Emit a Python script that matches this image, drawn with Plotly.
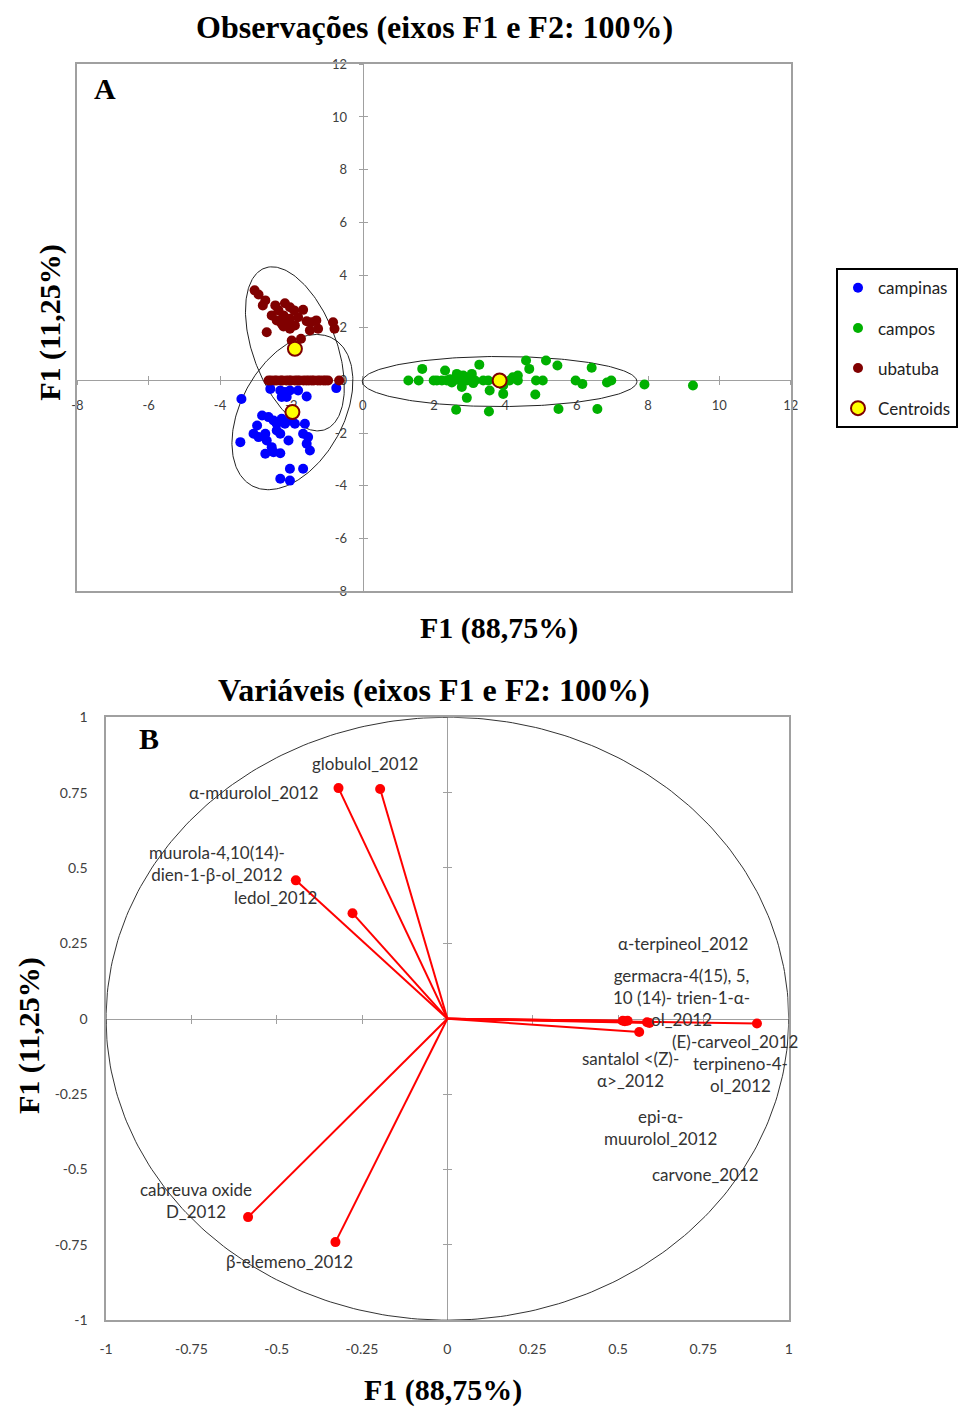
import numpy as np
import plotly.graph_objects as go

# ---------------- Painel A: observações ----------------
campinas_x = [-3.40, -2.59, -2.31, -2.18, -2.04, -1.81, -1.57, -0.74, -2.27, -2.13,
              -2.82, -2.64, -2.50, -2.41, -2.27, -2.18, -2.04, -1.90, -1.62, -2.96,
              -3.06, -2.92, -2.73, -2.41, -2.31, -2.08, -1.67, -1.53, -2.69, -2.55,
              -3.43, -2.73, -2.50, -2.31, -1.57, -1.48, -2.04, -1.67, -2.31, -2.04]
campinas_y = [-0.70, -0.32, -0.38, -0.44, -0.38, -0.38, -0.61, -0.29, -0.63, -0.63,
              -1.33, -1.39, -1.52, -1.64, -1.45, -1.64, -1.52, -1.64, -1.64, -1.71,
              -2.02, -2.15, -2.02, -1.90, -2.02, -2.28, -2.02, -2.15, -2.28, -2.53,
              -2.34, -2.78, -2.72, -2.76, -2.40, -2.66, -3.35, -3.35, -3.73, -3.80]

campos_x = [1.28, 1.57, 1.67, 1.99, 2.08, 2.22, 2.31, 2.36, 2.45, 2.50, 2.55, 2.64,
            2.68, 2.73, 2.82, 2.78, 2.92, 3.00, 3.06, 3.10, 3.15, 3.27, 3.38, 3.52,
            3.56, 2.92, 2.62, 3.54, 3.94, 3.94, 3.75, 4.12, 4.21, 4.35, 4.35, 4.58,
            4.67, 4.86, 5.05, 4.84, 5.14, 5.46, 5.49, 5.97, 6.16, 6.42, 6.58, 6.85,
            6.97, 7.90, 9.26]
campos_y = [0.00, 0.00, 0.44, 0.00, 0.00, 0.00, 0.38, 0.00, 0.05, -0.08, 0.00, 0.25,
            0.08, 0.00, 0.19, -0.25, 0.00, 0.05, 0.25, -0.10, 0.00, 0.60, 0.00, 0.00,
            -0.38, -0.66, -1.11, -1.18, -0.51, -0.19, 0.00, 0.00, 0.12, 0.19, 0.00, 0.76,
            0.44, 0.00, 0.00, -0.53, 0.76, 0.57, -1.08, 0.00, -0.13, 0.48, -1.08, -0.08,
            0.00, -0.15, -0.19]

ubatuba_x = [-3.03, -2.92, -2.73, -2.80, -2.45, -2.36, -2.18, -2.04, -1.92, -1.67,
             -2.55, -2.41, -2.22, -2.13, -2.04, -1.81, -1.57, -1.44, -1.30, -1.25,
             -1.48, -2.04, -2.22, -2.69, -0.83, -0.79, -1.99, -1.73, -2.27, -1.90,
             -2.64, -2.57, -2.47, -2.41, -2.30, -2.25, -2.14, -2.06, -2.01, -1.90,
             -1.83, -1.77, -1.66, -1.58, -1.51, -1.43, -1.37, -1.26, -1.19, -1.10,
             -1.04, -0.97, -0.66]
ubatuba_y = [3.42, 3.26, 3.04, 2.85, 2.85, 2.66, 2.93, 2.78, 2.66, 2.68,
             2.47, 2.28, 2.47, 2.21, 2.34, 2.40, 2.25, 2.21, 2.28, 1.96,
             1.90, 1.96, 2.05, 1.83, 2.21, 1.96, 1.52, 1.58, 2.15, 2.09,
             0.00, 0.00, 0.00, 0.00, 0.00, 0.00, 0.00, 0.00, 0.00, 0.00,
             0.00, 0.00, 0.00, 0.00, 0.00, 0.00, 0.00, 0.00, 0.00, 0.00,
             0.00, 0.00, 0.00]

centroid_x = [-1.97, 3.84, -1.90]
centroid_y = [-1.20, 0.00, 1.20]

# confidence ellipses: centre, semi-axes and rotation (degrees)
ell_cx = [-1.97, 3.84, -1.90]
ell_cy = [-1.20, -0.04, 1.20]
ell_a = [3.05, 3.85, 3.19]
ell_b = [1.50, 0.95, 1.20]
ell_rot = [72.7, 0.0, 103.6]

obs_ticks = [-8, -6, -4, -2, 0, 2, 4, 6, 8, 10, 12]

# ---------------- Painel B: variáveis ----------------
var_names = ["globulol_2012", "α-muurolol_2012", "muurola-4,10(14)-<br>dien-1-β-ol_2012",
             "ledol_2012", "α-terpineol_2012", "germacra-4(15), 5,<br>10 (14)- trien-1-α-<br>ol_2012",
             "(E)-carveol_2012", "santalol <(Z)-<br>α>_2012", "terpineno-4-<br>ol_2012",
             "epi-α-<br>muurolol_2012", "carvone_2012", "cabreuva oxide<br>D_2012",
             "β-elemeno_2012"]
var_f1 = [-0.197, -0.319, -0.444, -0.278, 0.514, 0.528, 0.907, 0.562, 0.592, 0.585,
          0.520, -0.584, -0.328]
var_f2 = [0.762, 0.765, 0.459, 0.350, -0.007, -0.007, -0.016, -0.044, -0.014, -0.012,
          -0.008, -0.658, -0.741]
# label offsets from the arrow tip (px)
lab_dx = [-15, -85, -79, -77, 60, 54, -22, -9, 91, 13, 81, -52, -46]
lab_dy = [25, -4, 17, 16, 77, 23, -18, -38, -52, -105, -153, 17, -19]

var_ticks = [-1, -0.75, -0.5, -0.25, 0, 0.25, 0.5, 0.75, 1]
var_ticktext = ["-1", "-0.75", "-0.5", "-0.25", "0", "0.25", "0.5", "0.75", "1"]

# ---------------- page geometry ----------------
W, H = 958, 1407
# layout positions are given in page pixels and mapped onto the figure
X_OFF, X_SCALE = 6.0, 0.983
Y_OFF, Y_SCALE = 8.7, 0.988


def px_x(p):
    return ((p - X_OFF) / X_SCALE) / W


def px_y(p):
    return 1 - ((p - Y_OFF) / Y_SCALE) / H


A_xdom = [px_x(77), px_x(797)]
A_ydom = [px_y(591), px_y(64)]
B_xdom = [px_x(106), px_x(795)]
B_ydom = [px_y(1320), px_y(717)]

A_x0 = A_xdom[0] + (0 + 8) / 20 * (A_xdom[1] - A_xdom[0])
A_y0 = A_ydom[0] + (0 + 8) / 20 * (A_ydom[1] - A_ydom[0])
B_x0 = (B_xdom[0] + B_xdom[1]) / 2
B_y0 = (B_ydom[0] + B_ydom[1]) / 2

SANS = "Lato, Open Sans, sans-serif"
TICK_FONT = dict(family=SANS, size=13, color="#404040")
LABEL_FONT = dict(family=SANS, size=17, color="#333333")
TITLE_FONT = dict(family="Liberation Serif, Times New Roman, serif", size=30, color="black")
AXC = "#a0a0a0"

fig = go.Figure()

# ellipses
t = np.linspace(0, 2 * np.pi, 240)
for cx, cy, a, b, rot in zip(ell_cx, ell_cy, ell_a, ell_b, ell_rot):
    r = np.deg2rad(rot)
    ex = cx + a * np.cos(t) * np.cos(r) - b * np.sin(t) * np.sin(r)
    ey = cy + a * np.cos(t) * np.sin(r) + b * np.sin(t) * np.cos(r)
    fig.add_trace(go.Scatter(x=ex, y=ey, mode="lines", line=dict(color="#222222", width=1),
                             showlegend=False, hoverinfo="skip", xaxis="x", yaxis="y"))

groups = [("campinas", campinas_x, campinas_y, "#0000ff"),
          ("campos", campos_x, campos_y, "#00b000"),
          ("ubatuba", ubatuba_x, ubatuba_y, "#800000")]
for name, gx, gy, col in groups:
    fig.add_trace(go.Scatter(x=gx, y=gy, mode="markers", name=name, legendgroup=name,
                             marker=dict(color=col, size=10, line=dict(width=0)),
                             xaxis="x", yaxis="y"))
fig.add_trace(go.Scatter(x=centroid_x, y=centroid_y, mode="markers", name="Centroids",
                         legendgroup="Centroids",
                         marker=dict(color="#ffff00", size=14, line=dict(color="#7f0000", width=2)),
                         xaxis="x", yaxis="y"))

# correlation circle
ang = np.linspace(0, 2 * np.pi, 361)
fig.add_trace(go.Scatter(x=np.cos(ang), y=np.sin(ang), mode="lines",
                         line=dict(color="#333333", width=1), showlegend=False,
                         hoverinfo="skip", xaxis="x2", yaxis="y2"))
# vectors
vx, vy = [], []
for fx, fy in zip(var_f1, var_f2):
    vx += [0, fx, None]
    vy += [0, fy, None]
fig.add_trace(go.Scatter(x=vx, y=vy, mode="lines", line=dict(color="#ff0000", width=2),
                         showlegend=False, hoverinfo="skip", xaxis="x2", yaxis="y2"))
fig.add_trace(go.Scatter(x=var_f1, y=var_f2, mode="markers",
                         marker=dict(color="#ff0000", size=10), showlegend=False,
                         text=var_names, hoverinfo="text", xaxis="x2", yaxis="y2"))

# empty traces so that the axes through the origin are laid out
for xa, ya in [("x3", "y"), ("x5", "y"), ("x", "y3"), ("x", "y5"),
               ("x4", "y2"), ("x6", "y2"), ("x2", "y4"), ("x2", "y6")]:
    fig.add_trace(go.Scatter(x=[None], y=[None], mode="markers", showlegend=False,
                             hoverinfo="skip", xaxis=xa, yaxis=ya))

annotations = []
for name, fx, fy, dx, dy in zip(var_names, var_f1, var_f2, lab_dx, lab_dy):
    annotations.append(dict(x=fx, y=fy, xref="x2", yref="y2", text=name, showarrow=False,
                            xshift=dx, yshift=dy, xanchor="center", yanchor="middle",
                            align="center", font=LABEL_FONT))


def paper_text(text, x, y, size=30, angle=0):
    f = dict(TITLE_FONT)
    f["size"] = size
    return dict(x=px_x(x), y=px_y(y), xref="paper", yref="paper", text="<b>%s</b>" % text,
                showarrow=False, xanchor="center", yanchor="middle", textangle=angle, font=f)


annotations += [
    paper_text("Observações (eixos F1 e F2: 100%)", 437, 27, size=32),
    paper_text("F1 (88,75%)", 503, 628),
    paper_text("F1 (11,25%)", 50, 322, angle=-90),
    paper_text("A", 105, 88, size=30),
    paper_text("Variáveis (eixos F1 e F2: 100%)", 437, 690, size=32),
    paper_text("F1 (88,75%)", 446, 1390),
    paper_text("F1 (11,25%)", 28, 1035, angle=-90),
    paper_text("B", 149, 738, size=30),
]

box = dict(showgrid=False, zeroline=False, showline=True, mirror=True, linecolor=AXC,
           linewidth=1.5, ticks="")
zero_ax = dict(showgrid=False, zeroline=False, showline=True, linecolor=AXC, linewidth=1,
               tickcolor=AXC, ticklen=4, tickwidth=1, layer="below traces")

fig.update_layout(
    width=W, height=H, margin=dict(l=0, r=0, t=0, b=0),
    paper_bgcolor="white", plot_bgcolor="white",
    showlegend=True,
    legend=dict(x=px_x(843), y=px_y(268), xanchor="left", yanchor="top",
                bordercolor="black", borderwidth=2, bgcolor="white",
                font=dict(family=SANS, size=17, color="#222222"),
                traceorder="grouped", tracegroupgap=15, itemwidth=30),
    # panel A frame
    xaxis=dict(domain=A_xdom, range=[-8, 12], anchor="y", showticklabels=False, **box),
    yaxis=dict(domain=A_ydom, range=[-8, 12], anchor="x", showticklabels=False, **box),
    # panel A axes through the origin
    xaxis3=dict(overlaying="x", domain=A_xdom, range=[-8, 12], anchor="free", position=A_y0,
                tickvals=obs_ticks, ticktext=[str(v) for v in obs_ticks], ticks="outside",
                tickfont=TICK_FONT, ticklabelstandoff=9, **zero_ax),
    xaxis5=dict(overlaying="x", domain=A_xdom, range=[-8, 12], anchor="free", position=A_y0,
                tickvals=obs_ticks, ticks="inside", showticklabels=False, **zero_ax),
    yaxis3=dict(overlaying="y", domain=A_ydom, range=[-8, 12], anchor="free", position=A_x0,
                tickvals=obs_ticks, ticktext=[str(v) for v in obs_ticks], ticks="outside",
                tickfont=TICK_FONT, ticklabelstandoff=9, **zero_ax),
    yaxis5=dict(overlaying="y", domain=A_ydom, range=[-8, 12], anchor="free", position=A_x0,
                tickvals=obs_ticks, ticks="inside", showticklabels=False, **zero_ax),
    # panel B frame with tick labels
    xaxis2=dict(domain=B_xdom, range=[-1, 1], anchor="y2", tickvals=var_ticks,
                ticktext=var_ticktext, tickfont=dict(TICK_FONT, size=14),
                ticklabelstandoff=15, **box),
    yaxis2=dict(domain=B_ydom, range=[-1, 1], anchor="x2", tickvals=var_ticks,
                ticktext=var_ticktext, tickfont=dict(TICK_FONT, size=14),
                ticklabelstandoff=14, **box),
    # panel B axes through the origin
    xaxis4=dict(overlaying="x2", domain=B_xdom, range=[-1, 1], anchor="free", position=B_y0,
                tickvals=var_ticks, ticks="outside", showticklabels=False, **zero_ax),
    xaxis6=dict(overlaying="x2", domain=B_xdom, range=[-1, 1], anchor="free", position=B_y0,
                tickvals=var_ticks, ticks="inside", showticklabels=False, **zero_ax),
    yaxis4=dict(overlaying="y2", domain=B_ydom, range=[-1, 1], anchor="free", position=B_x0,
                tickvals=var_ticks, ticks="outside", showticklabels=False, **zero_ax),
    yaxis6=dict(overlaying="y2", domain=B_ydom, range=[-1, 1], anchor="free", position=B_x0,
                tickvals=var_ticks, ticks="inside", showticklabels=False, **zero_ax),
    annotations=annotations,
)

fig.write_html("out.html")
